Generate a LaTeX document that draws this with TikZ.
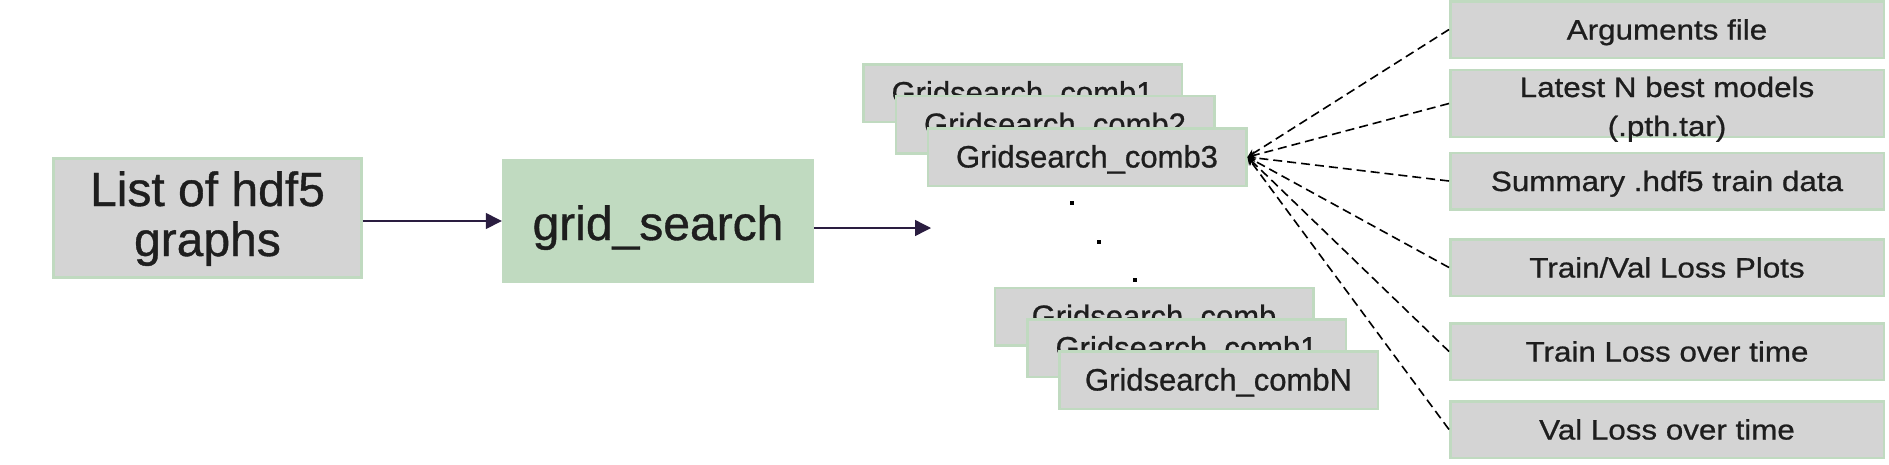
\documentclass[tikz,border=0pt]{standalone}
\usepackage{fontspec}
\setmainfont[FakeBold=0.8]{Liberation Sans}
\newfontfamily\rfont[FakeStretch=1.12,FakeBold=0.8]{Liberation Sans}
\usetikzlibrary{arrows.meta}
\definecolor{boxgray}{HTML}{D4D4D4}
\definecolor{boxgreen}{HTML}{C0DAC0}
\definecolor{arrowdark}{HTML}{2A1D40}
\definecolor{txt}{HTML}{1E1E1E}
\begin{document}
\begin{tikzpicture}[x=1pt,y=-1pt,
 graybox/.style={draw=boxgreen, fill=boxgray, line width=2.5pt, inner sep=0pt, text=txt, align=center},
 bigbox/.style={graybox, minimum width=308pt, minimum height=119pt, text height=86pt, text depth=10pt, font=\fontsize{48}{50}\selectfont},
 greenbox/.style={draw=none, fill=boxgreen, inner sep=0pt, text=txt, minimum width=312pt, minimum height=124pt, text height=38pt, text depth=0pt, font=\fontsize{48}{49}\selectfont},
 comb/.style={graybox, minimum width=318.5pt, minimum height=57.5pt, text height=21pt, text depth=0pt, font=\fontsize{31}{36}\selectfont},
 outbox/.style={graybox, minimum width=433.5pt, minimum height=56.5pt, text height=20pt, text depth=0pt, font=\rfont\fontsize{28}{39}\selectfont},
 flow/.style={draw=arrowdark, line width=1.4pt, -{Triangle[length=16pt,width=16pt]}},
 feed/.style={draw=black, line width=1.6pt, dash pattern=on 9pt off 5pt, -{Stealth[length=8pt,width=8pt]}},
 dotmark/.style={fill=black, minimum size=4pt, inner sep=0pt}
]
\useasboundingbox (0,0) rectangle (1889,464);

\node[bigbox] (list) at (207.5,218) {List of hdf5\\graphs};
\node[greenbox] (grid) at (658,221) {grid\_search};

\node[comb] (ca) at (1022.5,93) {Gridsearch\_comb1};
\node[comb] (cb) at (1055,124.5) {Gridsearch\_comb2};
\node[comb] (cc) at (1087,157) {Gridsearch\_comb3};

\node[dotmark] (d1) at (1072,203) {};
\node[dotmark] (d2) at (1099,242) {};
\node[dotmark] (d3) at (1135,280) {};

\node[comb] (cx) at (1154,316.5) {Gridsearch\_comb};
\node[comb] (cy) at (1186.5,348) {Gridsearch\_comb1};
\node[comb] (cz) at (1218.5,380) {Gridsearch\_combN};

\node[outbox] (o1) at (1667,29.5) {Arguments file};
\node[outbox, text height=66pt, text depth=1pt] (o2) at (1667,103.5) {Latest N best models\\(.pth.tar)};
\node[outbox] (o3) at (1667,181) {Summary .hdf5 train data};
\node[outbox] (o4) at (1667,267.5) {Train/Val Loss Plots};
\node[outbox] (o5) at (1667,351.5) {Train Loss over time};
\node[outbox] (o6) at (1667,429.5) {Val Loss over time};

\coordinate (gend) at (931,228);

\draw[flow] (list.east |- grid.west) -- (grid.west);
\draw[flow] ([yshift=-7pt]grid.east) -- (gend);

\foreach \o in {o1,o2,o3,o4,o5,o6}
  \draw[feed] (\o.west) -- (cc.east);
\end{tikzpicture}
\end{document}
